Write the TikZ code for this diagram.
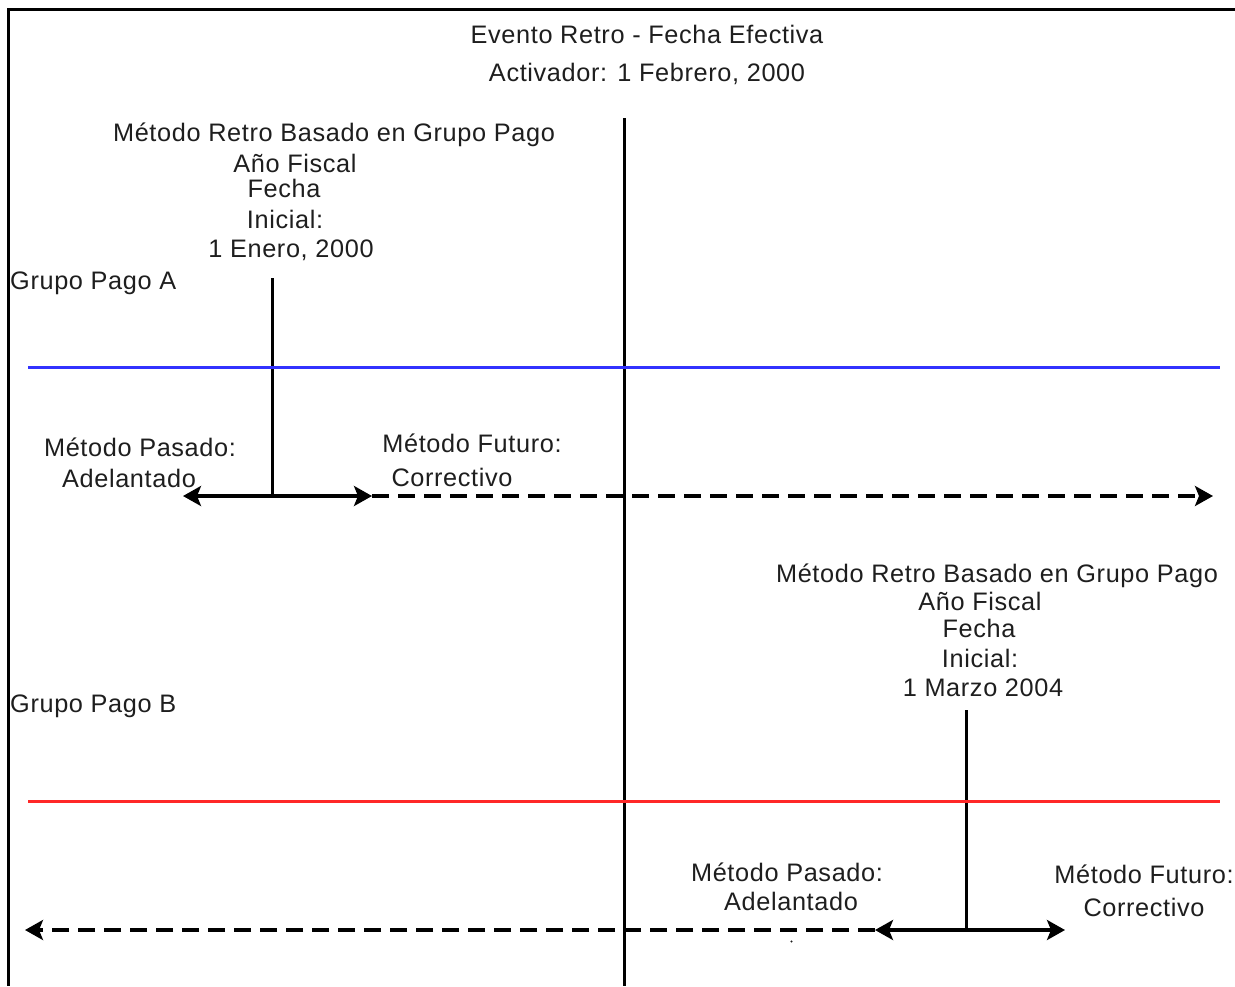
\documentclass[tikz,border=0pt]{standalone}
\usepackage{fontspec}
\setmainfont{Liberation Sans}[LetterSpace=2.5]
\usetikzlibrary{arrows.meta}
\definecolor{txt}{RGB}{30,30,30}
\definecolor{bluel}{RGB}{50,50,255}
\definecolor{redl}{RGB}{255,40,40}
\tikzset{
  lbl/.style={font=\fontsize{25.3}{29}\selectfont, text=txt, inner sep=0pt, anchor=base},
  lbll/.style={lbl, anchor=base west},
  frame/.style={line width=3pt, black},
  tick/.style={line width=3pt, black},
  grp/.style={line width=3pt},
  arr/.style={line width=3.2pt, black, -{Stealth[length=18pt,width=20pt,inset=4pt]}},
  darr/.style={arr, dash pattern=on 17pt off 9pt},
}
\begin{document}
\begin{tikzpicture}[x=1pt,y=-1pt]
\useasboundingbox (0,0) rectangle (1235,986);
% frame
\coordinate (fTR) at (1235,9.5);
\coordinate (fTL) at (8,9.5);
\coordinate (fBL) at (8,986);
\draw[frame] (fTR) -- (fTL) -- (fBL);

% titles
\node[lbl] (t1) at (647,43) {Evento Retro - Fecha Efectiva};
\node[lbl] (t2) at (647,81) {Activador: 1 Febrero, 2000};

% center line
\coordinate (cTop) at (624,118);
\coordinate (cBot) at (624,986);
\draw[tick] (cTop) -- (cBot);

% Group A
\node[lbl] (a1) at (334,141) {Método Retro Basado en Grupo Pago};
\node[lbl] (a2) at (295,172) {Año Fiscal};
\node[lbl] (a3) at (284,197) {Fecha};
\node[lbl] (a4) at (285,228) {Inicial:};
\node[lbl] (a5) at (291,257) {1 Enero, 2000};
\node[lbll] (ga) at (10,289) {Grupo Pago A};

\coordinate (aTop) at (272,278);
\coordinate (aMid) at (272,496);
\draw[tick] (aTop) -- (aMid);
\coordinate (blL) at (28,367);
\coordinate (blR) at (1220,367);
\draw[grp, bluel] (blL) -- (blR);

\node[lbl] (ap1) at (140,456) {Método Pasado:};
\node[lbl] (ap2) at (129,487) {Adelantado};
\node[lbl] (af1) at (472,452) {Método Futuro:};
\node[lbl] (af2) at (452,486) {Correctivo};

\coordinate (aL) at (183,496);
\coordinate (aR) at (372,496);
\coordinate (aEnd) at (1213,496);
\draw[arr] (aMid) -- (aL);
\draw[arr] (aMid) -- (aR);
\draw[darr] (aR) -- (aEnd);

% Group B
\node[lbl] (b1) at (997,582) {Método Retro Basado en Grupo Pago};
\node[lbl] (b2) at (980,610) {Año Fiscal};
\node[lbl] (b3) at (979,637) {Fecha};
\node[lbl] (b4) at (980,667) {Inicial:};
\node[lbl] (b5) at (983,696) {1 Marzo 2004};
\node[lbll] (gb) at (10,712) {Grupo Pago B};

\coordinate (bTop) at (966,710);
\coordinate (bMid) at (966,930);
\draw[tick] (bTop) -- (bMid);
\coordinate (rlL) at (28,801);
\coordinate (rlR) at (1220,801);
\draw[grp, redl] (rlL) -- (rlR);

\node[lbl] (bp1) at (787,881) {Método Pasado:};
\node[lbl] (bp2) at (791,910) {Adelantado};
\node[lbl] (bf1) at (1144,883) {Método Futuro:};
\node[lbl] (bf2) at (1144,916) {Correctivo};

\coordinate (bL) at (875,930);
\coordinate (bR) at (1065,930);
\coordinate (bEnd) at (25,930);
\draw[arr] (bMid) -- (bL);
\draw[arr] (bMid) -- (bR);
\draw[darr] (bL) -- (bEnd);
\fill[txt] (791.5,941.5) circle (1.2pt);
\end{tikzpicture}
\end{document}
